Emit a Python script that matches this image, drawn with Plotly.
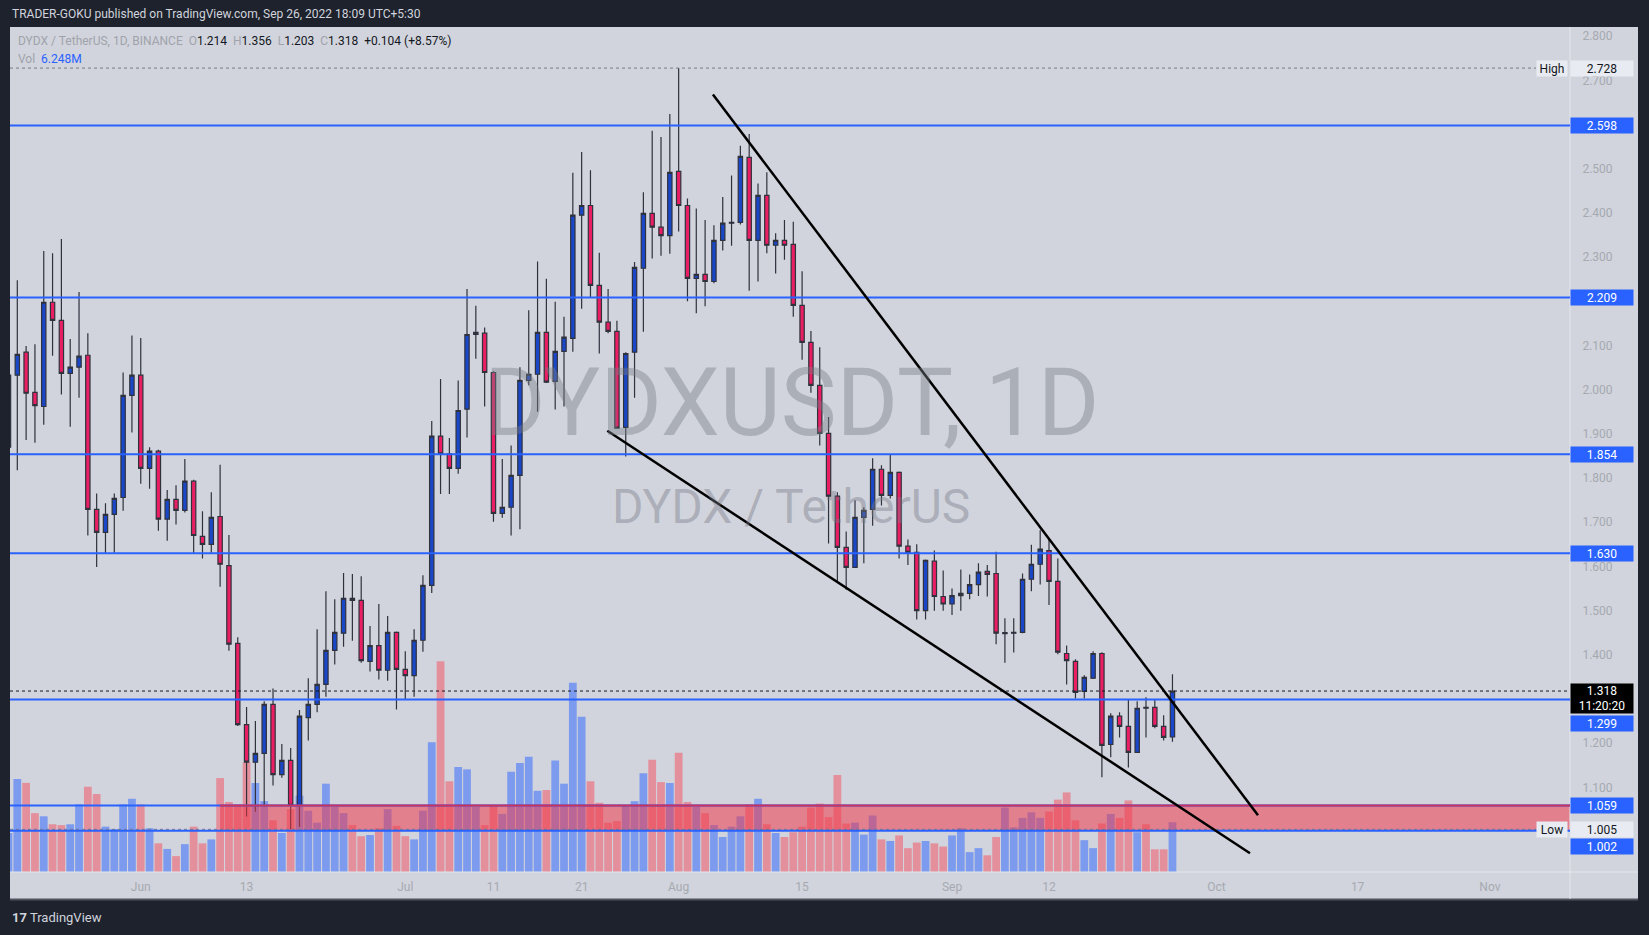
import plotly.graph_objects as go
import pandas as pd

# ---------------- data ----------------
dates = pd.date_range('2022-05-17', '2022-09-26', freq='D')

opens = [1.870, 2.033, 2.085, 1.994, 1.962, 2.198, 2.157, 2.037, 2.051, 2.078, 1.729, 1.677, 1.718, 1.756, 1.987,
         2.033, 1.822, 1.861, 1.707, 1.752, 1.727, 1.793, 1.668, 1.650, 1.713, 1.602, 1.426, 1.242, 1.157, 1.177,
         1.288, 1.129, 1.161, 1.059, 1.258, 1.288, 1.333, 1.410, 1.449, 1.528, 1.523, 1.385, 1.421, 1.365, 1.451,
         1.367, 1.353, 1.433, 1.557, 1.895, 1.855, 1.822, 1.956, 2.125, 2.128, 2.039, 1.720, 1.734, 1.806, 2.021,
         2.035, 2.130, 2.019, 2.087, 2.116, 2.395, 2.417, 2.236, 2.153, 2.132, 1.915, 2.085, 2.275, 2.399, 2.368,
         2.349, 2.494, 2.417, 2.252, 2.261, 2.245, 2.338, 2.377, 2.379, 2.526, 2.338, 2.440, 2.327, 2.338, 2.329,
         2.191, 2.107, 2.010, 1.901, 1.759, 1.643, 1.598, 1.711, 1.729, 1.820, 1.761, 1.813, 1.646, 1.632, 1.500,
         1.612, 1.532, 1.515, 1.534, 1.539, 1.559, 1.589, 1.584, 1.448, 1.449, 1.451, 1.571, 1.605, 1.636, 1.566,
         1.403, 1.385, 1.317, 1.347, 1.403, 1.197, 1.261, 1.238, 1.179, 1.281, 1.281, 1.238, 1.214]
highs = [2.080, 2.248, 2.099, 2.103, 2.314, 2.309, 2.341, 2.115, 2.221, 2.128, 1.765, 1.743, 1.765, 2.039, 2.123,
         2.117, 1.870, 1.864, 1.773, 1.784, 1.843, 1.796, 1.725, 1.768, 1.830, 1.671, 1.440, 1.282, 1.250, 1.295,
         1.324, 1.198, 1.189, 1.275, 1.347, 1.458, 1.544, 1.526, 1.585, 1.583, 1.578, 1.465, 1.515, 1.488, 1.453,
         1.408, 1.458, 1.580, 1.929, 2.024, 1.891, 2.021, 2.228, 2.190, 2.141, 2.042, 1.843, 1.874, 2.051, 2.180,
         2.290, 2.251, 2.199, 2.165, 2.491, 2.538, 2.497, 2.310, 2.228, 2.156, 2.085, 2.289, 2.447, 2.586, 2.572,
         2.624, 2.728, 2.433, 2.410, 2.384, 2.372, 2.436, 2.485, 2.552, 2.579, 2.467, 2.492, 2.354, 2.384, 2.380,
         2.268, 2.133, 2.096, 1.938, 1.768, 1.679, 1.750, 1.734, 1.845, 1.829, 1.854, 1.815, 1.661, 1.650, 1.616,
         1.636, 1.591, 1.550, 1.593, 1.582, 1.607, 1.603, 1.633, 1.483, 1.483, 1.584, 1.649, 1.682, 1.664, 1.618,
         1.421, 1.390, 1.354, 1.408, 1.406, 1.268, 1.270, 1.299, 1.295, 1.304, 1.299, 1.263, 1.356]
lows = [1.840, 1.818, 1.886, 1.880, 1.921, 2.077, 1.989, 1.916, 1.982, 1.670, 1.599, 1.630, 1.631, 1.726, 1.903,
        1.787, 1.776, 1.681, 1.658, 1.695, 1.722, 1.630, 1.618, 1.631, 1.554, 1.409, 1.239, 1.034, 1.045, 1.056,
        1.104, 1.122, 1.005, 1.011, 1.206, 1.270, 1.305, 1.378, 1.418, 1.432, 1.382, 1.362, 1.344, 1.341, 1.276,
        1.299, 1.305, 1.407, 1.540, 1.764, 1.764, 1.810, 1.892, 2.070, 1.962, 1.701, 1.710, 1.670, 1.684, 2.010,
        1.950, 2.015, 1.955, 1.962, 2.086, 2.183, 2.209, 2.082, 2.128, 1.912, 1.849, 1.982, 2.131, 2.297, 2.303,
        2.308, 2.358, 2.200, 2.173, 2.189, 2.241, 2.315, 2.326, 2.374, 2.224, 2.245, 2.309, 2.263, 2.294, 2.165,
        2.068, 1.993, 1.874, 1.652, 1.566, 1.547, 1.597, 1.607, 1.692, 1.738, 1.754, 1.618, 1.603, 1.480, 1.480,
        1.500, 1.500, 1.490, 1.500, 1.526, 1.533, 1.532, 1.424, 1.382, 1.405, 1.449, 1.544, 1.559, 1.513, 1.401,
        1.333, 1.301, 1.301, 1.345, 1.123, 1.168, 1.213, 1.145, 1.178, 1.213, 1.234, 1.206, 1.203]
closes = [2.033, 2.080, 1.992, 1.964, 2.198, 2.157, 2.037, 2.051, 2.076, 1.729, 1.677, 1.718, 1.754, 1.987, 2.033,
          1.822, 1.861, 1.707, 1.752, 1.727, 1.793, 1.670, 1.650, 1.711, 1.605, 1.424, 1.242, 1.157, 1.177, 1.288,
          1.129, 1.161, 1.059, 1.261, 1.288, 1.333, 1.410, 1.451, 1.528, 1.523, 1.387, 1.421, 1.365, 1.451, 1.367,
          1.353, 1.433, 1.557, 1.895, 1.855, 1.822, 1.953, 2.125, 2.130, 2.039, 1.720, 1.734, 1.806, 2.021, 2.035,
          2.130, 2.017, 2.087, 2.119, 2.395, 2.417, 2.236, 2.153, 2.132, 1.913, 2.082, 2.277, 2.399, 2.368, 2.349,
          2.492, 2.417, 2.252, 2.261, 2.245, 2.338, 2.377, 2.379, 2.528, 2.338, 2.440, 2.327, 2.338, 2.327, 2.191,
          2.107, 2.010, 1.901, 1.759, 1.643, 1.598, 1.711, 1.727, 1.820, 1.761, 1.813, 1.646, 1.632, 1.500, 1.614,
          1.532, 1.515, 1.534, 1.539, 1.559, 1.587, 1.582, 1.449, 1.450, 1.451, 1.571, 1.605, 1.639, 1.566, 1.406,
          1.387, 1.315, 1.349, 1.403, 1.195, 1.261, 1.238, 1.179, 1.279, 1.279, 1.238, 1.213, 1.318]
volumes = [4.9, 11.7, 11.2, 7.4, 7.0, 6.0, 5.9, 6.0, 8.5, 10.7, 9.8, 5.7, 5.4, 8.5, 9.2,
           8.5, 5.5, 3.6, 2.9, 2.0, 3.5, 5.7, 3.6, 4.1, 11.8, 8.8, 8.5, 13.8, 11.2, 8.9,
           6.5, 4.9, 7.9, 9.6, 7.7, 6.2, 11.1, 8.2, 7.4, 5.9, 4.5, 4.65, 5.5, 7.9, 5.8,
           4.5, 4.1, 7.7, 16.3, 26.5, 11.4, 13.2, 12.9, 8.2, 5.9, 8.3, 7.3, 12.6, 13.7, 14.5,
           10.2, 10.3, 14.0, 11.1, 23.8, 19.5, 11.4, 8.7, 6.2, 6.4, 8.4, 8.9, 12.4, 14.1, 11.3,
           11.2, 15.0, 8.8, 8.2, 7.4, 5.9, 4.4, 5.7, 7.0, 8.5, 9.2, 6.0, 4.9, 4.4, 5.0,
           5.7, 8.1, 8.6, 6.9, 12.2, 6.1, 6.2, 4.7, 7.1, 4.1, 3.9, 4.6, 3.0, 3.7, 3.9,
           3.6, 3.2, 4.6, 5.5, 2.5, 3.0, 2.1, 4.4, 8.1, 5.6, 6.8, 7.5, 6.8, 7.6, 9.1,
           10.0, 6.5, 4.0, 3.0, 6.1, 7.3, 6.8, 9.0, 5.0, 6.0, 2.85, 2.85, 6.248]

level_lines = [2.598, 2.209, 1.854, 1.630, 1.299, 1.059, 1.002]
zone_low, zone_high = 1.002, 1.059
zone_start = '2022-06-10'
high_price, low_price, last_price = 2.728, 1.005, 1.318
upper_trend = [('2022-08-04 21:20', 2.668), ('2022-10-05 16:50', 1.037)]
lower_trend = [('2022-07-23 21:50', 1.907), ('2022-10-04 19:00', 0.951)]

price_ticks = [2.8, 2.7, 2.5, 2.4, 2.3, 2.1, 2.0, 1.9, 1.8, 1.7, 1.6, 1.5, 1.4, 1.2, 1.1]
time_tick_vals = ['2022-06-01', '2022-06-13', '2022-07-01', '2022-07-11', '2022-07-21', '2022-08-01',
                  '2022-08-15', '2022-09-01', '2022-09-12', '2022-10-01', '2022-10-17', '2022-11-01']
time_tick_text = ['Jun', '13', 'Jul', '11', '21', 'Aug', '15', 'Sep', '12', 'Oct', '17', 'Nov']

assert len(dates) == len(opens) == len(highs) == len(lows) == len(closes) == len(volumes)

# ---------------- geometry ----------------
W, H = 1649, 935
ML, MR, MT, MB = 10, 79, 27, 63
PW, PH = W - ML - MR, H - MT - MB
X_RANGE = ['2022-05-17 04:08', '2022-11-10 02:00']
Y_RANGE = [0.9084, 2.8210]
V_RANGE = [0, 106.2]


def pxx(px):
    return (px - ML) / PW


def pxy(py):
    return (H - MB - py) / PH


BLUE = '#2962ff'
UP = '#1a47c8'
DOWN = '#e91e63'
EDGE = '#2f323d'
BG = '#d1d4dc'
DARK = '#1e222d'
FONT = 'Roboto'

vol_colors = ['rgba(41,98,255,0.5)' if c >= o else 'rgba(245,80,98,0.52)' for o, c in zip(opens, closes)]

fig = go.Figure()
fig.add_trace(go.Bar(x=dates, y=volumes, marker=dict(color=vol_colors, line=dict(width=0)),
                     width=0.88 * 86400000, xaxis='x', yaxis='y', hoverinfo='skip', showlegend=False))
fig.add_trace(go.Scatter(x=[zone_start, X_RANGE[1], X_RANGE[1], zone_start, zone_start],
                         y=[zone_low, zone_low, zone_high, zone_high, zone_low],
                         fill='toself', fillcolor='rgba(242,54,69,0.52)', mode='lines',
                         line=dict(width=0), xaxis='x', yaxis='y2', hoverinfo='skip', showlegend=False))
fig.add_trace(go.Candlestick(x=dates, open=opens, high=highs, low=lows, close=closes,
                             increasing=dict(fillcolor=UP, line=dict(color=EDGE, width=1.2)),
                             decreasing=dict(fillcolor=DOWN, line=dict(color=EDGE, width=1.2)),
                             whiskerwidth=0, xaxis='x', yaxis='y2', hoverinfo='skip', showlegend=False))

shapes = []
# light chart panel
shapes.append(dict(type='rect', xref='paper', yref='paper', x0=0, x1=pxx(1638), y0=pxy(899), y1=1,
                   fillcolor=BG, line=dict(width=0), layer='below'))
shapes.append(dict(type='line', xref='paper', yref='paper', x0=0, x1=pxx(1638), y0=pxy(899.5), y1=pxy(899.5),
                   line=dict(color='#50535e', width=2)))
shapes.append(dict(type='line', xref='paper', yref='paper', x0=0, x1=pxx(1638), y0=0, y1=0,
                   line=dict(color='#e3e6ec', width=1)))
shapes.append(dict(type='line', xref='paper', yref='paper', x0=1, x1=1, y0=pxy(899), y1=1,
                   line=dict(color='#e3e6ec', width=1)))
# dotted markers
shapes.append(dict(type='line', xref='paper', yref='y2', x0=0, x1=pxx(1536), y0=high_price, y1=high_price,
                   line=dict(color='#787b86', width=1, dash='dot')))
shapes.append(dict(type='line', xref='paper', yref='y2', x0=0, x1=pxx(1536), y0=low_price, y1=low_price,
                   line=dict(color='#787b86', width=1, dash='dot')))
# horizontal levels
for lv in level_lines:
    shapes.append(dict(type='line', xref='paper', yref='y2', x0=0, x1=1, y0=lv, y1=lv,
                       line=dict(color=BLUE, width=2)))
shapes.append(dict(type='line', xref='x', yref='y2', x0=zone_start, x1=X_RANGE[1], y0=zone_high, y1=zone_high,
                   line=dict(color='#c8335f', width=2)))
shapes.append(dict(type='line', xref='paper', yref='y2', x0=0, x1=1, y0=last_price, y1=last_price,
                   line=dict(color='#131722', width=1, dash='dot')))
# trend lines
for tl in (upper_trend, lower_trend):
    shapes.append(dict(type='line', xref='x', yref='y2', x0=tl[0][0], y0=tl[0][1], x1=tl[1][0], y1=tl[1][1],
                       line=dict(color='#000000', width=2.5)))

ann = []
ann.append(dict(xref='paper', yref='paper', x=0, y=pxy(13.5), xanchor='left', yanchor='middle', showarrow=False,
                text='TRADER-GOKU published on TradingView.com, Sep 26, 2022 18:09 UTC+5:30',
                font=dict(family=FONT, size=12, color='#d1d4dc')))
G = '#a0a3ab'
K = '#131722'
legend = (f'<span style="color:{G}">DYDX / TetherUS, 1D, BINANCE</span>\u00a0\u00a0'
          f'<span style="color:{G}">O</span><span style="color:{K}">1.214</span>\u00a0\u00a0'
          f'<span style="color:{G}">H</span><span style="color:{K}">1.356</span>\u00a0\u00a0'
          f'<span style="color:{G}">L</span><span style="color:{K}">1.203</span>\u00a0\u00a0'
          f'<span style="color:{G}">C</span><span style="color:{K}">1.318</span>\u00a0\u00a0'
          f'<span style="color:{K}">+0.104 (+8.57%)</span>')
ann.append(dict(xref='paper', yref='paper', x=pxx(16), y=pxy(41), xanchor='left', yanchor='middle',
                showarrow=False, text=legend, font=dict(family=FONT, size=12, color=K)))
ann.append(dict(xref='paper', yref='paper', x=pxx(16), y=pxy(58.5), xanchor='left', yanchor='middle',
                showarrow=False, text=f'<span style="color:{G}">Vol</span>\u00a0\u00a0<span style="color:{BLUE}">6.248M</span>',
                font=dict(family=FONT, size=12, color=K)))
# watermark
ann.append(dict(xref='paper', yref='paper', x=pxx(791), y=pxy(403), xanchor='center', yanchor='middle',
                showarrow=False, text='DYDXUSDT, 1D', font=dict(family=FONT, size=94, color='rgba(120,123,134,0.42)')))
ann.append(dict(xref='paper', yref='paper', x=pxx(791), y=pxy(506), xanchor='center', yanchor='middle',
                showarrow=False, text='DYDX / TetherUS', font=dict(family=FONT, size=48, color='rgba(120,123,134,0.42)')))
# footer
ann.append(dict(xref='paper', yref='paper', x=pxx(10), y=pxy(917), xanchor='left', yanchor='middle',
                showarrow=False, text='<b>17</b> TradingView', font=dict(family=FONT, size=13, color='#d1d4dc')))

# price axis boxes
BOX_X = pxx(1601.5)
for lv, shift in [(2.598, 0), (2.209, 0), (1.854, 0), (1.630, 0), (1.299, -24), (1.059, 0), (1.002, -15.5)]:
    ann.append(dict(xref='paper', yref='y2', x=BOX_X, y=lv, xanchor='center', yanchor='middle', yshift=shift,
                    showarrow=False, text=f'{lv:.3f}', width=62, height=15, bgcolor=BLUE, borderpad=0,
                    font=dict(family=FONT, size=12, color='#ffffff')))
ann.append(dict(xref='paper', yref='y2', x=BOX_X, y=last_price, xanchor='center', yanchor='middle', yshift=-7,
                showarrow=False, text=f'{last_price:.3f}<br>11:20:20', width=62, height=29, bgcolor='#000000',
                borderpad=0, align='center', font=dict(family=FONT, size=12, color='#ffffff')))
for lv, lab in [(high_price, 'High'), (low_price, 'Low')]:
    ann.append(dict(xref='paper', yref='y2', x=BOX_X, y=lv, xanchor='center', yanchor='middle',
                    showarrow=False, text=f'{lv:.3f}', width=62, height=15, bgcolor='#e8ebf1', borderpad=0,
                    font=dict(family=FONT, size=12, color=K)))
    ann.append(dict(xref='paper', yref='y2', x=pxx(1552), y=lv, xanchor='center', yanchor='middle',
                    showarrow=False, text=lab, width=30, height=15, bgcolor='#e8ebf1', borderpad=0,
                    font=dict(family=FONT, size=12, color=K)))

fig.update_layout(
    width=W, height=H, margin=dict(l=ML, r=MR, t=MT, b=MB),
    paper_bgcolor=DARK, plot_bgcolor=BG, showlegend=False, hovermode=False,
    boxgap=0.3,
    xaxis=dict(type='date', range=X_RANGE, rangeslider=dict(visible=False), showgrid=False, zeroline=False,
               showline=False, tickvals=time_tick_vals, ticktext=time_tick_text, ticks='outside', ticklen=4,
               tickcolor='rgba(0,0,0,0)', tickfont=dict(family=FONT, size=12, color='#a6a9b1')),
    yaxis=dict(range=V_RANGE, visible=False, showgrid=False, zeroline=False, fixedrange=True),
    yaxis2=dict(range=Y_RANGE, overlaying='y', side='right', showgrid=False, zeroline=False, showline=False,
                tickvals=price_ticks, ticktext=[f'{v:.3f}' for v in price_ticks], ticks='outside', ticklen=9,
                tickcolor='rgba(0,0,0,0)', tickfont=dict(family=FONT, size=12, color='#a6a9b1')),
    shapes=shapes, annotations=ann,
)

fig.write_html('out.html', config={'displayModeBar': False},
               post_script="document.body.style.margin='0';document.body.style.background='#1e222d';")
